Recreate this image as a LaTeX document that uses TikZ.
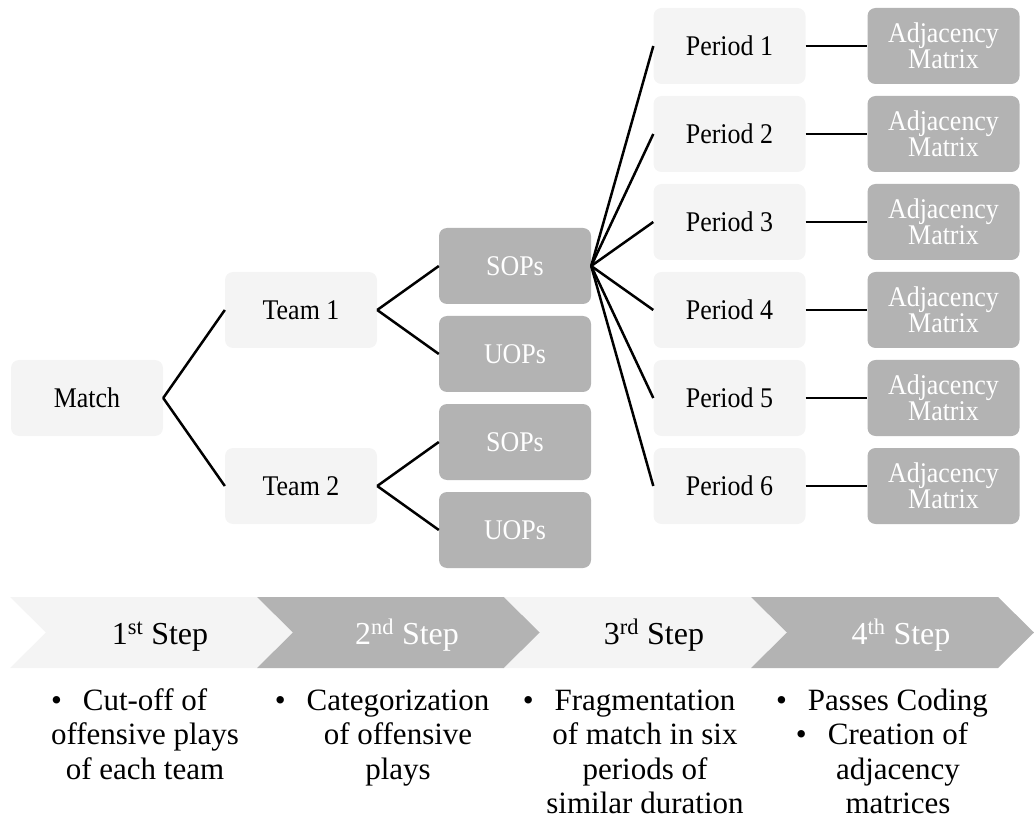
\documentclass[tikz,border=0pt]{standalone}
\usepackage{fontspec}
\setmainfont{Liberation Serif}
\newfontfamily\treefont[FakeStretch=0.91]{Liberation Serif}
\definecolor{lightc}{HTML}{F4F4F4}
\definecolor{darkc}{HTML}{B3B3B3}
\begin{document}
\begin{tikzpicture}[x=1pt,y=-1pt,
  lightbox/.style={fill=lightc, rounded corners=8pt, minimum width=152pt, minimum height=76pt, inner sep=0pt, text=black, font=\treefont\fontsize{28.5}{25}\selectfont, align=center},
  darkbox/.style={lightbox, fill=darkc, text=white},
  conn/.style={line width=2.5pt, black},
  chevlight/.style={fill=lightc},
  chevdark/.style={fill=darkc},
  steptext/.style={anchor=base, inner sep=0pt, font=\fontsize{32}{32}\selectfont},
  desc/.style={anchor=base, inner sep=0pt, align=center, font=\fontsize{31}{34.5}\selectfont}]
\useasboundingbox (0,0) rectangle (1034,834);
% tree
\node[lightbox] (match) at (87,398) {Match};
\node[lightbox] (t1) at (301,310) {Team 1};
\node[lightbox] (t2) at (301,486) {Team 2};
\node[darkbox] (s1) at (515,266) {SOPs};
\node[darkbox] (u1) at (515,354) {UOPs};
\node[darkbox] (s2) at (515,442) {SOPs};
\node[darkbox] (u2) at (515,530) {UOPs};
\foreach \i in {1,...,6}{
  \node[lightbox] (p\i) at (729.5,{46+88*(\i-1)}) {Period \i};
  \node[darkbox] (a\i) at (943.5,{46+88*(\i-1)}) {Adjacency\\Matrix};
  \draw[conn] (s1.east) -- (p\i.west);
  \draw[conn] (p\i.east) -- (a\i.west);
}
\draw[conn] (match.east) -- (t1.west);
\draw[conn] (match.east) -- (t2.west);
\draw[conn] (t1.east) -- (s1.west);
\draw[conn] (t1.east) -- (u1.west);
\draw[conn] (t2.east) -- (s2.west);
\draw[conn] (t2.east) -- (u2.west);
% chevrons
\foreach \L/\sty in {10/chevlight,257/chevdark,504/chevlight,751/chevdark}{
  \path[\sty] (\L,597) -- ({\L+247},597) -- ({\L+283},632.5) -- ({\L+247},668) -- (\L,668) -- ({\L+36},632.5) -- cycle;
}
\node[steptext] (st1) at (160,644) {1\textsuperscript{st} Step};
\node[steptext, text=white] (st2) at (407,644) {2\textsuperscript{nd} Step};
\node[steptext] (st3) at (654,644) {3\textsuperscript{rd} Step};
\node[steptext, text=white] (st4) at (901,644) {4\textsuperscript{th} Step};
% descriptions (anchor=base is the baseline of the last line)
\node[desc] (d1) at (145,779) {\llap{•\hspace{21pt}}Cut-off of\\offensive plays\\of each team};
\node[desc] (d2) at (398,779) {\llap{•\hspace{21pt}}Categorization\\of offensive\\plays};
\node[desc] (d3) at (645,813.5) {\llap{•\hspace{21pt}}Fragmentation\\of match in six\\periods of\\similar duration};
\node[desc] (d4) at (898,813.5) {\llap{•\hspace{21pt}}Passes Coding\\\llap{•\hspace{21pt}}Creation of\\adjacency\\matrices};
\end{tikzpicture}
\end{document}
